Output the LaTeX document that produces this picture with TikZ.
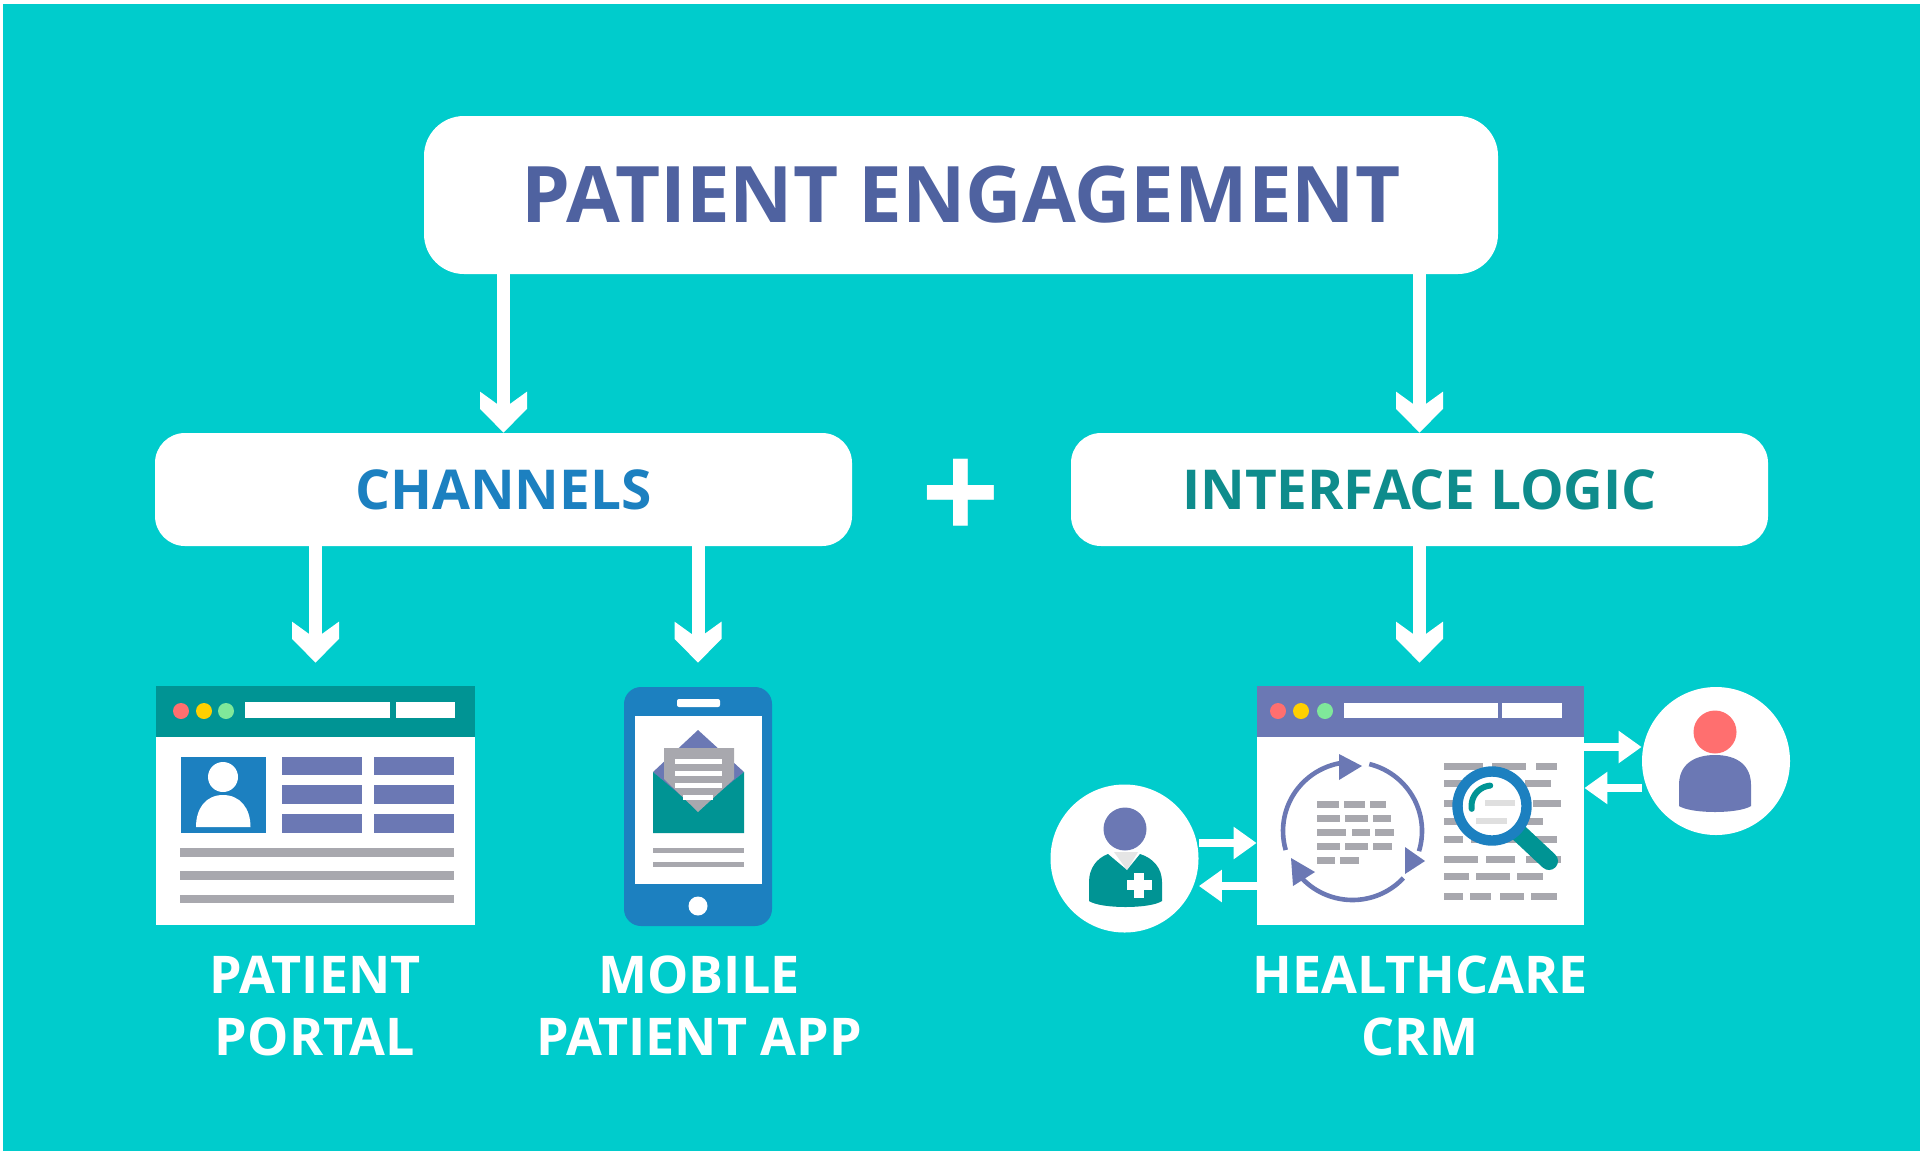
\documentclass[tikz,border=0pt]{standalone}
\usepackage{fontspec}
\setmainfont{Open Sans}
\usetikzlibrary{arrows.meta,calc}
\definecolor{bgteal}{HTML}{00CCCC}
\definecolor{ctitle}{HTML}{4F62A0}
\definecolor{cblue}{HTML}{1C80C0}
\definecolor{cdteal}{HTML}{009494}
\definecolor{ctxtteal}{HTML}{0E8C8C}
\definecolor{cpurple}{HTML}{6B78B4}
\definecolor{cgrey}{HTML}{A8A8AE}
\definecolor{cred}{HTML}{FF6F6F}
\definecolor{cyellow}{HTML}{FFD000}
\definecolor{cgreen}{HTML}{7FE89A}
\pgfdeclarearrow{
  name=Chev,
  parameters={\the\pgfarrowlength,\the\pgfarrowwidth},
  setup code={
    \pgfarrowssettipend{0pt}
    \pgfarrowssetlineend{-.6\pgfarrowlength}
    \pgfarrowssetvisualbackend{-\pgfarrowlength}
    \pgfarrowssetbackend{-\pgfarrowlength}
    \pgfarrowssavethe\pgfarrowlength
    \pgfarrowssavethe\pgfarrowwidth
  },
  drawing code={
    \pgfpathmoveto{\pgfqpoint{0pt}{0pt}}
    \pgfpathlineto{\pgfqpoint{-.58\pgfarrowlength}{.5\pgfarrowwidth}}
    \pgfpathlineto{\pgfqpoint{-\pgfarrowlength}{.5\pgfarrowwidth}}
    \pgfpathlineto{\pgfqpoint{-.7\pgfarrowlength}{.5\pgflinewidth}}
    \pgfpathlineto{\pgfqpoint{-.7\pgfarrowlength}{-.5\pgflinewidth}}
    \pgfpathlineto{\pgfqpoint{-\pgfarrowlength}{-.5\pgfarrowwidth}}
    \pgfpathlineto{\pgfqpoint{-.58\pgfarrowlength}{-.5\pgfarrowwidth}}
    \pgfpathclose
    \pgfusepathqfill
  },
  defaults={length=20pt,width=24pt}
}
\tikzset{
  bigbox/.style={draw=none,fill=white,rounded corners=20pt,inner sep=0pt,minimum width=537pt,minimum height=79pt,
    font=\fontsize{39}{39}\selectfont\bfseries,text=ctitle},
  midbox/.style={draw=none,fill=white,rounded corners=15pt,inner sep=0pt,minimum width=348.5pt,minimum height=56.5pt,
    font=\fontsize{27.5}{27.5}\selectfont\bfseries},
  winbox/.style={draw=none,fill=white,inner sep=0pt,minimum width=159.5pt,minimum height=119.5pt},
  round/.style={circle,draw=none,fill=white,inner sep=0pt,minimum size=74pt},
  lbl/.style={text=white,align=center,inner sep=0pt,font=\fontsize{26}{31}\selectfont\bfseries},
  bigarrow/.style={draw=white,line width=6.5pt,-{Chev[length=20.5pt,width=23.5pt]}},
  smallarrow/.style={draw=white,line width=4pt,-{Triangle[length=11.5pt,width=15.5pt]}},
}
\newcommand{\rowbar}[3]{\fill ({1030+#1/1.96},{#3-3.5}) rectangle ({1030+#2/1.96},{#3+3.5});}
\begin{document}
\begin{tikzpicture}[x=0.5pt,y=-0.5pt]
\useasboundingbox (0,0) rectangle (1920,1152);
\fill[white] (0,0) rectangle (1920,1152);
\fill[bgteal] (3,4) rectangle (1920,1151);

% boxes
\node[bigbox] (top) at (961,195) {PATIENT ENGAGEMENT};
\node[midbox,text=cblue] (chan) at (503.5,489.5) {CHANNELS};
\node[midbox,text=ctxtteal] (logic) at (1419.5,489.5) {INTERFACE LOGIC};
\node[text=white,inner sep=0pt,font=\fontsize{69}{69}\selectfont\bfseries] (plus) at (961,500) {+};

% portal window
\node[winbox] (portal) at (315.5,805.5) {};
\fill[cdteal] (156,686) rectangle (475,737);
\fill[cred] (181,711) circle[radius=8];
\fill[cyellow] (204,711) circle[radius=8];
\fill[cgreen] (226,711) circle[radius=8];
\fill[white] (245,702) rectangle (390,718);
\fill[white] (396,702) rectangle (455,718);
\fill[cblue] (181,757) rectangle (266,833);
\fill[white] (223,777) circle[radius=15];
\fill[white] (196,827) .. controls (196,808) and (206,795) .. (223,795) .. controls (240,795) and (250.5,808) .. (250.5,827) -- cycle;
\fill[cpurple] (282,757) rectangle (362,775);
\fill[cpurple] (374,757) rectangle (454,775);
\fill[cpurple] (282,785) rectangle (362,804);
\fill[cpurple] (374,785) rectangle (454,804);
\fill[cpurple] (282,814) rectangle (362,833);
\fill[cpurple] (374,814) rectangle (454,833);
\fill[cgrey] (180,848) rectangle (454,857);
\fill[cgrey] (180,871) rectangle (454,880);
\fill[cgrey] (180,895) rectangle (454,903);

% phone
\node[draw=none,fill=cblue,rounded corners=8.5pt,inner sep=0pt,minimum width=74pt,minimum height=119.5pt] (phone) at (698,806.5) {};
\fill[white,rounded corners=1pt] (677,699) rectangle (720,707);
\fill[white] (635,716) rectangle (762,884);
\fill[white] (698,906) circle[radius=9.5];
\fill[cpurple] (698,730) -- (744,772) -- (698,812) -- (653,772) -- cycle;
\fill[cdteal] (653,772) -- (698,810) -- (744,772) -- (744,833) -- (653,833) -- cycle;
\fill[cgrey] (664,748) -- (734,748) -- (734,779) -- (698,812) -- (664,779) -- cycle;
\fill[white] (675,759) rectangle (722,764);
\fill[white] (675,771) rectangle (722,776);
\fill[white] (675,783) rectangle (722,788);
\fill[white] (683,795) rectangle (713,800);
\fill[cgrey] (653,848) rectangle (744,853);
\fill[cgrey] (653,862) rectangle (744,867);

% CRM window
\node[winbox,minimum width=163.5pt] (crm) at (1420.5,805.5) {};
\fill[cpurple] (1257,686) rectangle (1584,737);
\fill[cred] (1278,711) circle[radius=8];
\fill[cyellow] (1301,711) circle[radius=8];
\fill[cgreen] (1325,711) circle[radius=8];
\fill[white] (1344,703) rectangle (1498,718);
\fill[white] (1502,703) rectangle (1562,718);
% cycle
\begin{scope}[draw=cpurple,line width=2.3pt]
\draw plot[domain=164:262,samples=30] ({1352.5+69.5*cos(\x)},{831+69*sin(\x)});
\draw plot[domain=284:377,samples=30] ({1352.5+69.5*cos(\x)},{831+69*sin(\x)});
\draw plot[domain=43:137,samples=30] ({1352.5+69.5*cos(\x)},{831+69*sin(\x)});
\end{scope}
\fill[cpurple] (1362,766) -- (1339,754) -- (1339,780) -- cycle;
\fill[cpurple] (1405,874) -- (1405,847) -- (1425,861) -- cycle;
\fill[cpurple] (1291,858) -- (1315,872) -- (1293,886) -- cycle;
\begin{scope}[fill=cgrey]
\rowbar{562}{605}{804}\rowbar{615}{657}{804}\rowbar{667}{697}{804}
\rowbar{562}{608}{818}\rowbar{618}{662}{818}\rowbar{672}{708}{818}
\rowbar{562}{620}{832}\rowbar{632}{666}{832}\rowbar{676}{714}{832}
\rowbar{562}{608}{846}\rowbar{618}{662}{846}\rowbar{672}{710}{846}
\rowbar{562}{597}{860}\rowbar{608}{645}{860}
\rowbar{812}{888}{766}\rowbar{905}{972}{766}\rowbar{992}{1032}{766}
\rowbar{812}{870}{783}\rowbar{885}{955}{783}\rowbar{970}{1022}{783}
\rowbar{812}{860}{803}\rowbar{985}{1040}{803}
\rowbar{812}{860}{821}\rowbar{975}{1005}{821}
\rowbar{812}{848}{839}\rowbar{865}{965}{839}\rowbar{985}{1032}{839}
\rowbar{812}{878}{859}\rowbar{893}{950}{859}\rowbar{972}{1040}{859}
\rowbar{812}{860}{876}\rowbar{875}{940}{876}\rowbar{955}{1005}{876}
\rowbar{812}{848}{896}\rowbar{862}{903}{896}\rowbar{922}{968}{896}\rowbar{982}{1032}{896}
\end{scope}
% magnifier
\draw[cdteal,line width=9pt,line cap=round] (1518,832) -- (1549,861);
\fill[white] (1492,806) circle[radius=30];
\fill[gray!25] ({1030+892/1.96},800) rectangle ({1030+950/1.96},806);
\fill[gray!25] ({1030+875/1.96},818) rectangle ({1030+935/1.96},824);
\draw[cblue,line width=5.2pt] (1492,806) circle[radius=34.5];
\draw[cdteal,line width=3pt,line cap=round] plot[domain=172:265,samples=16] ({1492+20.5*cos(\x)},{806+20.5*sin(\x)});

% persons
\node[round] (rc) at (1716,761) {};
\fill[cred] (1715,732) circle[radius=21.5];
\fill[cpurple] (1679,806) -- (1679,785) .. controls (1679,766) and (1692,755) .. (1715,755) .. controls (1738,755) and (1751,766) .. (1751,785) -- (1751,806) .. controls (1738,814) and (1692,814) .. (1679,806) -- cycle;
\node[round] (lc) at (1124.5,858.5) {};
\fill[cpurple] (1125,829) circle[radius=21.5];
\fill[cdteal] (1089,901) -- (1089,882) .. controls (1089,868) and (1097,858) .. (1108,854) -- (1127,870) -- (1140,854) .. controls (1153,858) and (1162,868) .. (1162,882) -- (1162,901) .. controls (1150,909) and (1101,909) .. (1089,901) -- cycle;
\fill[gray!20] (1114,852) -- (1138,852) -- (1127,870) -- cycle;
\fill[white] (1134,872.5) rectangle (1144,897.5);
\fill[white] (1126.5,880) rectangle (1151.5,890);

% labels
\node[lbl] (l1) at (315,1006) {PATIENT\\PORTAL};
\node[lbl] (l2) at (699,1006) {MOBILE\\PATIENT APP};
\node[lbl] (l3) at (1420,1006) {HEALTHCARE\\CRM};

% connectors
\draw[bigarrow] (top.south -| chan.north) -- (chan.north);
\draw[bigarrow] (top.south -| logic.north) -- (logic.north);
\draw[bigarrow] (chan.south -| portal.north) -- ($(portal.north)+(0,-23)$);
\draw[bigarrow] (chan.south -| phone.north) -- ($(phone.north)+(0,-24)$);
\draw[bigarrow] (logic.south) -- ($(crm.north)+(-1,-23)$);
\draw[smallarrow] (crm.east |- 0,747) -- (rc.west |- 0,747);
\draw[smallarrow] (rc.west |- 0,788) -- (crm.east |- 0,788);
\draw[smallarrow] (lc.east |- 0,843) -- (crm.west |- 0,843);
\draw[smallarrow] (crm.west |- 0,886) -- (lc.east |- 0,886);
\end{tikzpicture}
\end{document}
